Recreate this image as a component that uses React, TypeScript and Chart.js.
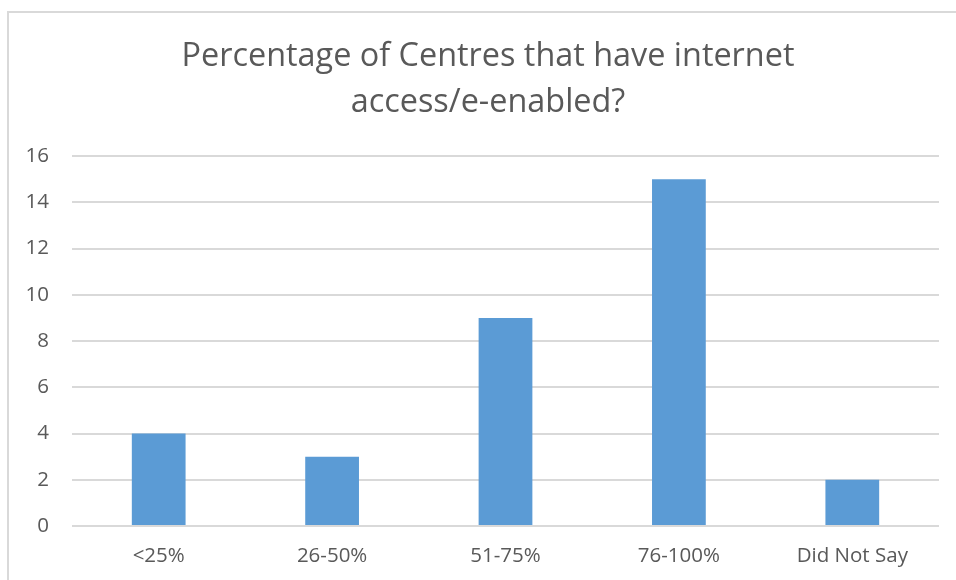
import React, { useEffect, useRef } from "react";
import { Chart, registerables } from "chart.js";

Chart.register(...registerables);

const categories = ["<25%", "26-50%", "51-75%", "76-100%", "Did Not Say"];
const counts = [4, 3, 9, 15, 2];
const titleLines = ["Percentage of Centres that have internet", "access/e-enabled?"];
const yMax = 16;
const yStep = 2;

const FONT = "'Open Sans', sans-serif";

const titlePlugin = {
  id: "centeredTitle",
  afterDraw(chart: any) {
    const ctx = chart.ctx;
    ctx.save();
    ctx.fillStyle = "#595959";
    ctx.font = `32.4px ${FONT}`;
    ctx.textAlign = "center";
    ctx.textBaseline = "alphabetic";
    const cx = 488;
    titleLines.forEach((line, i) => {
      ctx.fillText(line, cx, 66 + i * 46);
    });
    ctx.restore();
  },
};

export default function App() {
  const ref = useRef<HTMLCanvasElement | null>(null);

  useEffect(() => {
    document.body.style.margin = "0";
    const canvas = ref.current;
    if (!canvas) return;
    const chart = new Chart(canvas, {
      type: "bar",
      data: {
        labels: categories,
        datasets: [
          {
            data: counts,
            backgroundColor: "#5B9BD5",
            borderWidth: 0,
            categoryPercentage: 1,
            barPercentage: 0.31,
          },
        ],
      },
      options: {
        animation: false,
        responsive: false,
        maintainAspectRatio: false,
        layout: { padding: { left: 0, right: 17, top: 156, bottom: 0 } },
        plugins: {
          legend: { display: false },
          tooltip: { enabled: false },
          title: { display: false },
        },
        scales: {
          x: {
            grid: { display: false, drawTicks: false },
            border: { display: false },
            ticks: { color: "#595959", font: { family: FONT, size: 20.5 }, padding: 18, maxRotation: 0 },
            afterFit: (s: any) => {
              s.height = 54;
            },
          },
          y: {
            min: 0,
            max: yMax,
            ticks: { stepSize: yStep, color: "#595959", font: { family: FONT, size: 20.5 }, padding: 23 },
            grid: { color: "#d9d9d9", lineWidth: 2, drawTicks: false },
            border: { display: false },
            afterFit: (s: any) => {
              s.width = 72;
            },
          },
        },
      },
      plugins: [titlePlugin],
    });
    return () => chart.destroy();
  }, []);

  return (
    <div style={{ position: "relative", width: 956, height: 580, overflow: "hidden", background: "#fff" }}>
      <div
        style={{
          position: "absolute",
          left: 7,
          top: 11,
          width: 1000,
          height: 1000,
          border: "2px solid #d9d9d9",
          boxSizing: "border-box",
        }}
      />
      <canvas ref={ref} width={956} height={580} style={{ position: "absolute", left: 0, top: 0 }} />
    </div>
  );
}
